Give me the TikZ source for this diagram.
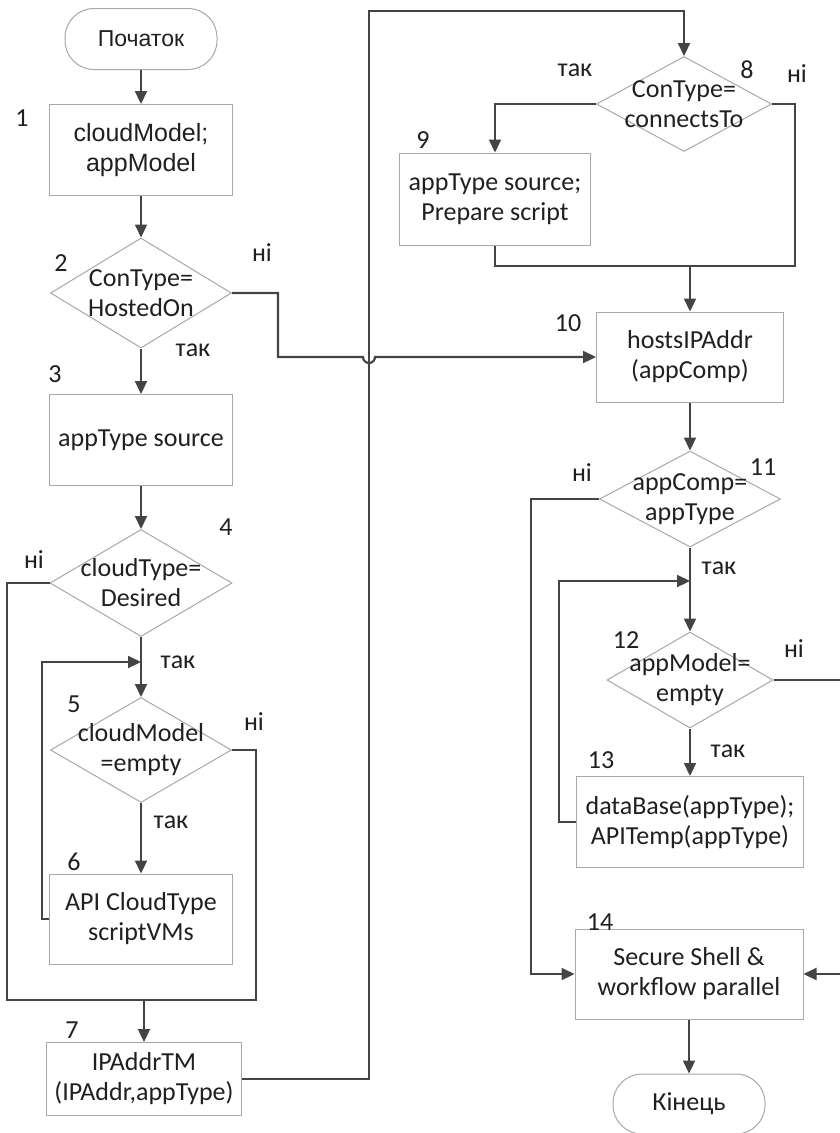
\documentclass[tikz,border=0pt]{standalone}
\usepackage{fontspec}
\setmainfont{Carlito}
\newfontfamily\arialfont{Liberation Sans}
\usetikzlibrary{arrows.meta,shapes.geometric}
\definecolor{linegray}{RGB}{68,68,68}
\definecolor{framegray}{RGB}{168,168,168}
\definecolor{inkgray}{RGB}{32,32,32}
\newcommand{\tagnode}[4]{\node[tagtext] (#1) at (#3,#4) {#2};}
\newcommand{\drawflow}{\draw[flow]}
\newcommand{\drawplain}{\draw[plain]}
\tikzset{
  flow/.style={draw=linegray, line width=2.2pt, -{Triangle[length=13pt,width=12pt]}},
  plain/.style={draw=linegray, line width=2.2pt},
  blok/.style 2 args={rectangle, draw=framegray, line width=1pt, minimum width=#1pt, minimum height=#2pt, align=center, inner sep=0pt, text=inkgray},
  term/.style 2 args={rectangle, rounded corners=29pt, draw=framegray, line width=1pt, minimum width=#1pt, minimum height=#2pt, inner sep=0pt, text=inkgray},
  rozv/.style 2 args={diamond, draw=framegray, line width=1pt, minimum width=#1pt, minimum height=#2pt, inner sep=0pt},
  rozvtext/.style={align=center, inner sep=0pt, text=inkgray},
  tagtext/.style={inner sep=0pt, text=inkgray}
}

\begin{document}
\begin{tikzpicture}[x=1pt, y=-1pt, font=\fontsize{26}{30}\selectfont]
\useasboundingbox (0,0) rectangle (840,1133);
\path[fill=white] (0,0) rectangle (840,1133);
\node[term={152}{61}] (start) at (141,39) {\arialfont\fontsize{23}{28}\selectfont Початок};
\node[blok={183}{91}] (b1) at (141,150) {\arialfont\fontsize{25}{29}\selectfont cloudModel;\\\arialfont\fontsize{25}{29}\selectfont appModel};
\node[rozv={181}{110}, label={[rozvtext]center:{ConType=\\HostedOn}}] (d2) at (141,293) {};
\node[blok={183}{91}] (b3) at (141,440) {appType source};
\node[rozv={182}{107}, label={[rozvtext]center:{cloudType=\\Desired}}] (d4) at (141,583) {};
\node[rozv={181}{105}, label={[rozvtext]center:{cloudModel\\=empty}}] (d5) at (141,750) {};
\node[blok={183}{90}] (b6) at (141,919) {API CloudType\\scriptVMs};
\node[blok={195}{73}] (b7) at (144,1079) {IPAddrTM\\(IPAddr,appType)};
\node[rozv={175}{95}, label={[rozvtext]center:{ConType=\\connectsTo}}] (d8) at (684,104) {};
\node[blok={191}{92}] (b9) at (495,199) {appType source;\\Prepare script};
\node[blok={187}{90}] (b10) at (690,357) {hostsIPAddr\\(appComp)};
\node[rozv={181}{96}, label={[rozvtext]center:{appComp=\\appType}}] (d11) at (690,499) {};
\node[rozv={166}{96}, label={[rozvtext]center:{appModel=\\empty}}] (d12) at (690,680) {};
\node[blok={227}{91}] (b13) at (690,822) {dataBase(appType);\\APITemp(appType)};
\node[blok={228}{90}] (b14) at (689,974) {Secure Shell \&\\workflow parallel};
\node[term={152}{60}] (end) at (689,1104) {Кінець};
\tagnode{n1}{1}{22}{118}\tagnode{n2}{2}{61}{263}\tagnode{n3}{3}{55}{374}\tagnode{n4}{4}{226}{527}\tagnode{n5}{5}{74}{704}\tagnode{n6}{6}{74}{862}\tagnode{n7}{7}{72}{1030}
\tagnode{n8}{8}{747}{70}\tagnode{n9}{9}{423}{140}\tagnode{n10}{10}{568}{323}\tagnode{n11}{11}{763}{467}\tagnode{n12}{12}{626}{640}\tagnode{n13}{13}{601}{760}\tagnode{n14}{14}{600}{922}
\tagnode{y2}{так}{193}{350}\tagnode{f2}{ні}{262}{253}\tagnode{f4}{ні}{34}{560}\tagnode{y4}{так}{178}{662}\tagnode{f5}{ні}{254}{722}\tagnode{y5}{так}{171}{822}
\tagnode{y8}{так}{575}{70}\tagnode{f8}{ні}{797}{74}\tagnode{f11}{ні}{582}{473}\tagnode{y11}{так}{719}{568}\tagnode{f12}{ні}{794}{649}\tagnode{y12}{так}{728}{751}
\coordinate (j5) at (141,662);
\coordinate (m7) at (144,1000);
\coordinate (up8) at (369,11);
\coordinate (hop) at (363,357);
\coordinate (m10) at (690,266);
\coordinate (j12) at (690,581);
\drawflow (start) -- (b1);
\drawflow (b1) -- (d2);
\drawflow (d2) -- (b3);
\drawflow (b3) -- (d4);
\drawflow (d4) -- (d5);
\drawflow (d5) -- (b6);
\drawflow (b6.west) -- ++(-7,0) |- (j5);
\drawplain (d5.east) -- ++(24,0) |- (m7) -- ++(-137,0) |- (d4.west);
\drawflow (m7) -- (b7);
\drawflow (b7.east) -| (up8) -| (d8.north);
\drawflow (d2.east) -- ++(46,0) |- (hop) arc[start angle=180, end angle=0, radius=6] -- (b10.west);
\drawflow (d8.west) -| (b9.north);
\drawplain (b9.south) |- (m10);
\drawplain (d8.east) -- ++(23,0) |- (m10);
\drawflow (m10) -- (b10);
\drawflow (b10) -- (d11);
\drawflow (d11) -- (d12);
\drawflow (d12) -- (b13);
\drawflow (b13.west) -- ++(-17,0) |- (j12);
\drawflow (d11.west) -- ++(-68,0) |- (b14.west);
\drawflow (d12.east) -- ++(75,0) |- (b14.east);
\drawflow (b14) -- (end);
\end{tikzpicture}
\end{document}
